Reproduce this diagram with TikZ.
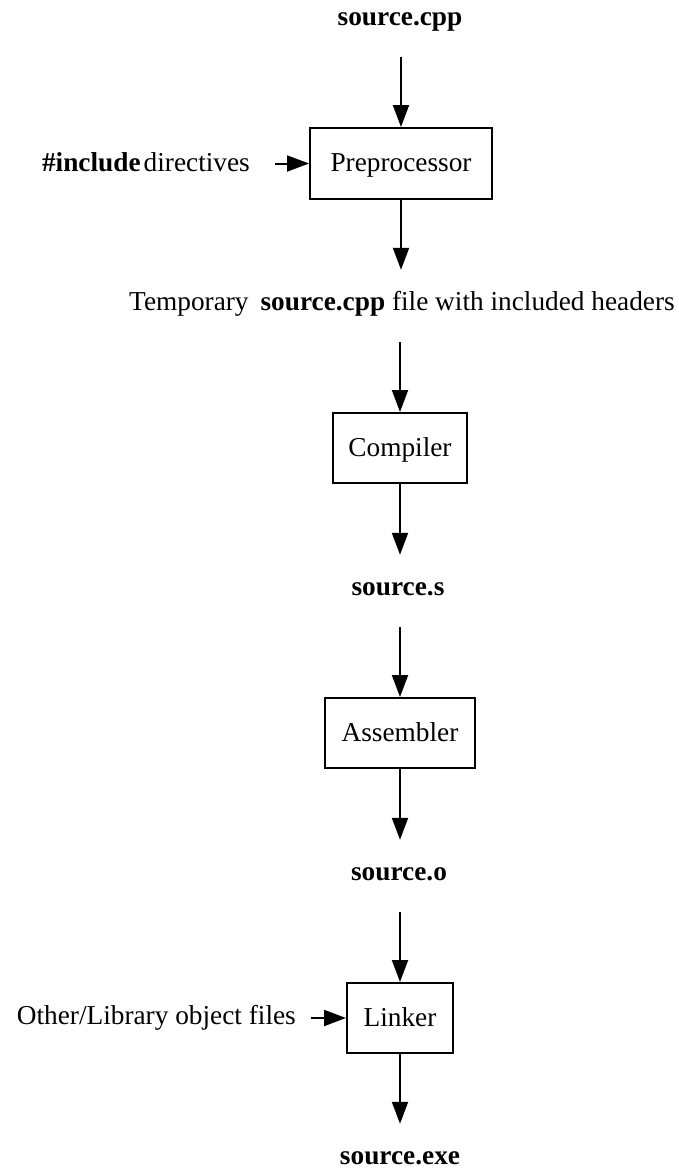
\documentclass[tikz,border=0pt]{standalone}
\usepackage{fontspec}
\setmainfont{Liberation Serif}
\usetikzlibrary{arrows.meta}
\begin{document}
\begin{tikzpicture}[x=1pt,y=-1pt,
  every node/.style={font=\fontsize{27.3}{32}\selectfont},
  proc/.style={draw, line width=2pt, inner sep=0pt, text height=16pt, text depth=0pt},
  filet/.style={inner sep=0pt, text height=40pt, text depth=32pt, anchor=base},
  sidet/.style={inner sep=0pt, anchor=base east},
  flow/.style={line width=2pt, -{Triangle[length=22pt,width=16pt]}}]
\useasboundingbox (0,0) rectangle (679,1171);
\node[filet] (src) at (400,25) {\bfseries source.cpp};
\node[proc, minimum width=182pt, minimum height=71pt] (pre) at (401,163.5) {Preprocessor};
\node[sidet] (inc) at (250,171) {{\bfseries\#include}\hspace{3pt}directives};
\node[filet] (tmp) at (402,310) {Temporary\hspace{12pt}{\bfseries source.cpp} file with included headers};
\node[proc, minimum width=134pt, minimum height=70pt] (cmp) at (400,448) {Compiler};
\node[filet] (ss) at (398,595) {\bfseries source.s};
\node[proc, minimum width=150pt, minimum height=70pt] (asm) at (400,733) {Assembler};
\node[filet] (so) at (399,880) {\bfseries source.o};
\node[proc, minimum width=106pt, minimum height=70pt] (lnk) at (400,1018) {Linker};
\node[sidet] (lib) at (296,1024) {Other/Library object files};
\node[filet] (exe) at (400,1164) {\bfseries source.exe};
\draw[flow] (src.south -| pre.north) -- (pre.north);
\draw[flow, shorten <=25pt] (inc.east |- pre.west) -- (pre.west);
\draw[flow] (pre.south) -- (tmp.north -| pre.south);
\draw[flow] (tmp.south -| cmp.north) -- (cmp.north);
\draw[flow] (cmp.south) -- (ss.north -| cmp.south);
\draw[flow] (ss.south -| asm.north) -- (asm.north);
\draw[flow] (asm.south) -- (so.north -| asm.south);
\draw[flow] (so.south -| lnk.north) -- (lnk.north);
\draw[flow, shorten <=15pt] (lib.east |- lnk.west) -- (lnk.west);
\draw[flow] (lnk.south) -- (exe.north -| lnk.south);
\end{tikzpicture}
\end{document}
